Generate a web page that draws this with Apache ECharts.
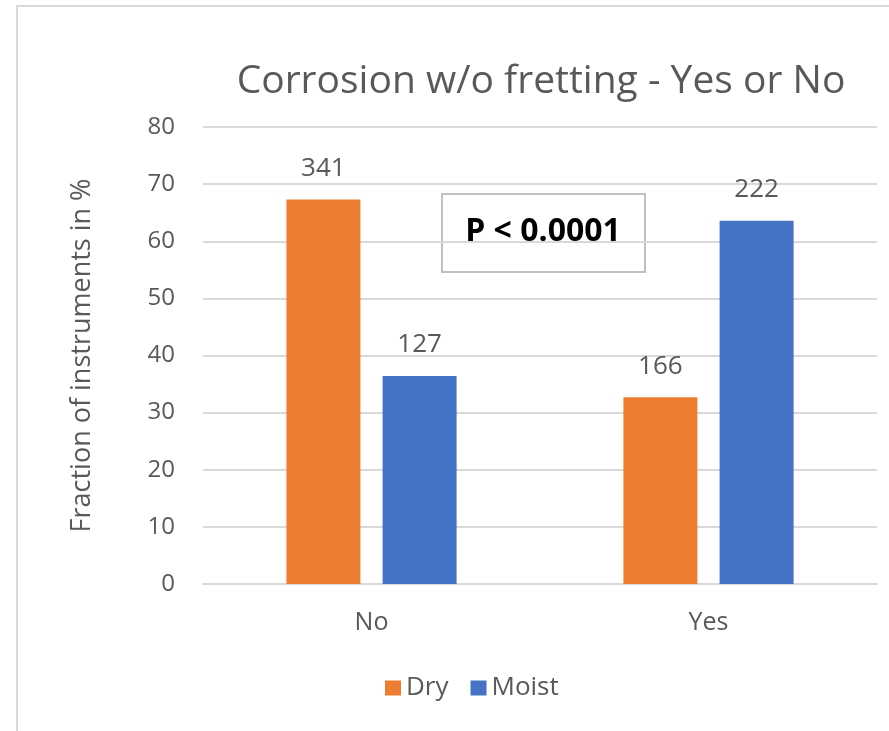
<!DOCTYPE html>
<html>
<head>
<meta charset="utf-8">
<script src="https://cdn.jsdelivr.net/npm/echarts@6/dist/echarts.min.js"></script>
<style>
  html, body { margin: 0; padding: 0; background: #fff; }
  #chart { width: 889px; height: 731px; }
</style>
</head>
<body>
<div id="chart"></div>
<script>
// data
const categories = ['No', 'Yes']
const dryValues = [67.3, 32.7]
const moistValues = [36.4, 63.6]
const dryCounts = [341, 166]
const moistCounts = [127, 222]
const yTicks = { min: 0, max: 80, interval: 10 }

const textColor = '#595959'
const font = 'Open Sans'

const chart = echarts.init(document.getElementById('chart'))

const labelFor = (counts) => ({
  show: true,
  position: 'top',
  distance: 18,
  color: textColor,
  fontFamily: font,
  fontSize: 26,
  formatter: p => counts[p.dataIndex]
})

const option = {
  animation: false,
  backgroundColor: '#fff',
  textStyle: { fontFamily: font },
  title: {
    text: 'Corrosion w/o fretting - Yes or No',
    left: 536,
    top: 57,
    textAlign: 'center',
    textStyle: {
      color: textColor,
      fontFamily: font,
      fontSize: 39,
      fontWeight: 'normal'
    }
  },
  legend: {
    bottom: 25,
    left: 380,
    itemWidth: 16,
    itemHeight: 15,
    itemGap: 22,
    icon: 'rect',
    textStyle: { color: textColor, fontFamily: font, fontSize: 26 },
    data: ['Dry', 'Moist']
  },
  grid: {
    left: 203,
    right: 12,
    top: 127,
    bottom: 147
  },
  xAxis: {
    type: 'category',
    data: categories,
    axisLine: { show: true, lineStyle: { color: '#d9d9d9', width: 2 } },
    axisTick: { show: false },
    axisLabel: { color: textColor, fontFamily: font, fontSize: 25, margin: 26 }
  },
  yAxis: {
    type: 'value',
    min: yTicks.min,
    max: yTicks.max,
    interval: yTicks.interval,
    name: 'Fraction of instruments in %',
    nameLocation: 'middle',
    nameGap: 107,
    nameTextStyle: { color: textColor, fontFamily: font, fontSize: 27 },
    axisLine: { show: false },
    axisTick: { show: false },
    axisLabel: { color: textColor, fontFamily: font, fontSize: 24, margin: 28 },
    splitLine: { lineStyle: { color: '#d9d9d9', width: 2 } }
  },
  series: [
    {
      name: 'Dry',
      type: 'bar',
      data: dryValues,
      barWidth: 74,
      barGap: '30%',
      itemStyle: { color: '#ED7D31' },
      label: labelFor(dryCounts)
    },
    {
      name: 'Moist',
      type: 'bar',
      data: moistValues,
      barWidth: 74,
      barGap: '30%',
      itemStyle: { color: '#4472C4' },
      label: labelFor(moistCounts)
    }
  ],
  graphic: [
    {
      // outer chart frame (only left/top edges visible)
      type: 'rect',
      silent: true,
      z: 100,
      shape: { x: 17, y: 6, width: 1000, height: 1000 },
      style: { fill: 'none', stroke: '#d9d9d9', lineWidth: 2 }
    },
    {
      type: 'group',
      left: 441,
      top: 193,
      z: 100,
      children: [
        {
          type: 'rect',
          shape: { x: 0, y: 0, width: 203, height: 78 },
          style: { fill: '#fff', stroke: '#bfbfbf', lineWidth: 2 }
        },
        {
          type: 'text',
          x: 101,
          y: 38,
          style: {
            text: 'P < 0.0001',
            fill: '#000',
            font: 'bold 32px "Open Sans"',
            align: 'center',
            verticalAlign: 'middle'
          }
        }
      ]
    }
  ]
}

chart.setOption(option)
</script>
</body>
</html>
